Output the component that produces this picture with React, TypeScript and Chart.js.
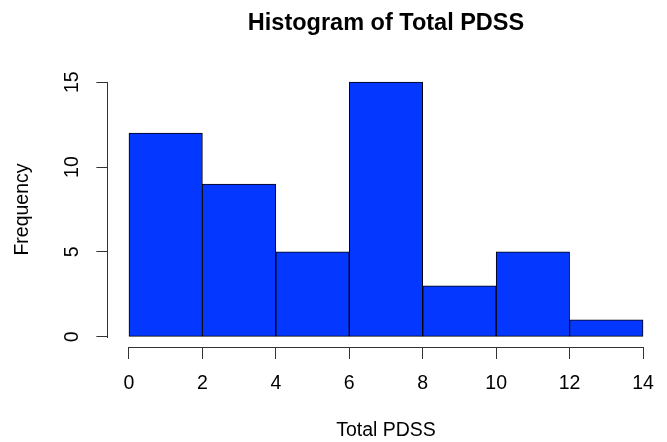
import React, { useEffect, useRef } from "react";
import { Chart, registerables } from "chart.js";

Chart.register(...registerables);

const binStarts = [0, 2, 4, 6, 8, 10, 12];
const binWidth = 2;
const frequencies = [12, 9, 5, 15, 3, 5, 1];
const xTicks = [0, 2, 4, 6, 8, 10, 12, 14];
const yTicks = [0, 5, 10, 15];
const titleText = "Histogram of Total PDSS";
const xTitle = "Total PDSS";
const yTitle = "Frequency";

const FONT = '"Liberation Sans", Arial, Helvetica, sans-serif';
const AXIS_COLOR = "#333333";

const rAxisPlugin = {
  id: "rAxis",
  afterDraw(chart: any) {
    const ctx = chart.ctx;
    const area = chart.chartArea;
    const xs = chart.scales.x;
    const ys = chart.scales.y;
    ctx.save();
    const x0 = Math.round(xs.getPixelForValue(xTicks[0]));
    const x1 = Math.round(xs.getPixelForValue(xTicks[xTicks.length - 1]));
    const ay = Math.round(area.bottom);
    const y0 = Math.round(ys.getPixelForValue(yTicks[0]));
    const y1 = Math.round(ys.getPixelForValue(yTicks[yTicks.length - 1]));
    const ax = Math.round(area.left) - 1;
    ctx.fillStyle = AXIS_COLOR;
    ctx.fillRect(x0, ay, x1 - x0 + 1, 1);
    ctx.fillRect(ax, y1, 1, y0 - y1 + 1);
    ctx.fillStyle = "#000";
    ctx.font = `bold 23.5px ${FONT}`;
    ctx.textAlign = "center";
    ctx.textBaseline = "alphabetic";
    ctx.fillText(titleText, (area.left + area.right) / 2, 30);
    ctx.restore();
  },
};

export default function App() {
  const ref = useRef<HTMLCanvasElement | null>(null);
  useEffect(() => {
    if (!ref.current) return;
    Chart.defaults.font.family = FONT;
    Chart.defaults.color = "#000";
    const xMin = xTicks[0], xMax = xTicks[xTicks.length - 1];
    const yMin = yTicks[0], yMax = yTicks[yTicks.length - 1];
    const xExt = (xMax - xMin) * 0.04;
    const yExt = (yMax - yMin) * 0.04;
    const chart = new Chart(ref.current, {
      type: "bar",
      data: {
        datasets: [
          {
            data: binStarts.map((s, i) => ({ x: s + binWidth / 2, y: frequencies[i] })),
            backgroundColor: "#0437ff",
            borderColor: "#000",
            borderWidth: 1,
            borderSkipped: false,
            barPercentage: 1,
            categoryPercentage: 1,
          },
        ],
      },
      options: {
        animation: false,
        responsive: false,
        maintainAspectRatio: false,
        layout: { padding: { left: 0, right: 3.4, top: 72, bottom: 0 } },
        plugins: {
          legend: { display: false },
          tooltip: { enabled: false },
          title: { display: false },
        },
        scales: {
          x: {
            type: "linear",
            offset: false,
            min: xMin - xExt,
            max: xMax + xExt,
            afterBuildTicks: (s: any) => {
              s.ticks = xTicks.map((v) => ({ value: v }));
            },
            afterFit: (s: any) => {
              s.height = 95;
            },
            border: { display: false },
            grid: {
              display: true,
              offset: false,
              drawOnChartArea: false,
              drawTicks: true,
              tickLength: 12,
              color: AXIS_COLOR,
            },
            ticks: {
              font: { size: 19.5 },
              color: "#000",
              padding: 13,
              maxRotation: 0,
              autoSkip: false,
            },
            title: {
              display: true,
              text: xTitle,
              font: { size: 19.5 },
              color: "#000",
              padding: { top: 0, bottom: 0 },
            },
          },
          y: {
            type: "linear",
            min: yMin - yExt,
            max: yMax + yExt,
            afterBuildTicks: (s: any) => {
              s.ticks = yTicks.map((v) => ({ value: v }));
            },
            afterFit: (s: any) => {
              s.width = 108.4;
            },
            border: { display: false },
            grid: {
              display: true,
              drawOnChartArea: false,
              drawTicks: true,
              tickLength: 12,
              color: AXIS_COLOR,
            },
            ticks: {
              font: { size: 19.5 },
              color: "#000",
              padding: 13,
              minRotation: 90,
              maxRotation: 90,
              crossAlign: "center",
              autoSkip: false,
            },
            title: {
              display: true,
              text: yTitle,
              font: { size: 19.5 },
              color: "#000",
              padding: { top: 11, bottom: 0 },
            },
          },
        },
      },
      plugins: [rAxisPlugin],
    } as any);
    return () => chart.destroy();
  }, []);
  return (
    <div style={{ position: "fixed", left: 0, top: 0, width: 667, height: 442, background: "#fff" }}>
      <canvas ref={ref} width={667} height={442} style={{ width: 667, height: 442, display: "block" }} />
    </div>
  );
}
